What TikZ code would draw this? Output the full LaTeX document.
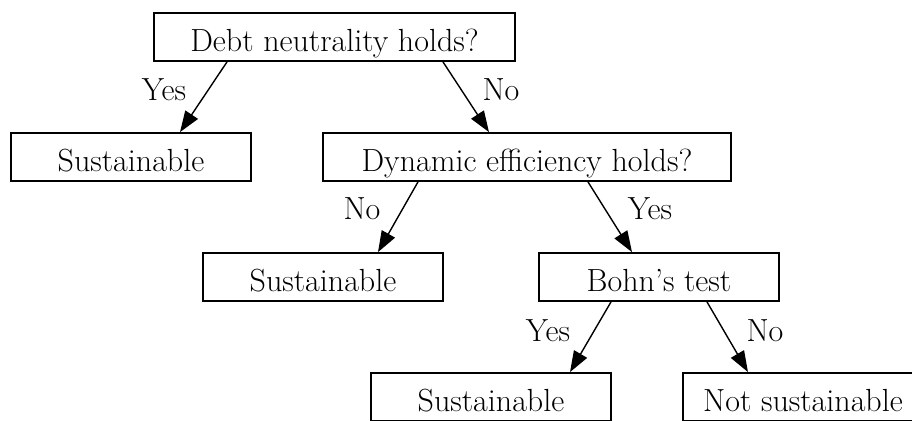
\documentclass[tikz,border=0pt]{standalone}
\usetikzlibrary{arrows.meta}
\begin{document}
\begin{tikzpicture}[x=0.5pt,y=-0.5pt,
  box/.style={draw, line width=0.9pt, inner sep=0pt, minimum height=24pt,
    minimum width=120pt, text height=14pt, text depth=0pt,
    font=\fontsize{16}{19}\selectfont},
  lab/.style={inner sep=0pt, font=\fontsize{16}{19}\selectfont},
  arr/.style={line width=0.7pt, -{Triangle[length=10.5pt,width=7.5pt]}}]
\path[use as bounding box] (0,0) rectangle (912,420);
\clip (0,0) rectangle (912,420);
\node[box, minimum width=180.5pt] (b1) at (334.5,37) {Debt neutrality holds?};
\node[box] (b2) at (131,157) {Sustainable};
\node[box, minimum width=204pt] (b3) at (527,157) {Dynamic efficiency holds?};
\node[box] (b4) at (323,277) {Sustainable};
\node[box] (b5) at (659,277) {Bohn’s test};
\node[box] (b6) at (491,397) {Sustainable};
\node[box] (b7) at (803,397) {Not sustainable};
\draw[arr] ([xshift=-53.75pt]b1.south) -- ([xshift=24.5pt]b2.north);
\draw[arr] ([xshift=54.25pt]b1.south) -- ([xshift=-19pt]b3.north);
\draw[arr] ([xshift=-54.5pt]b3.south) -- ([xshift=27.5pt]b4.north);
\draw[arr] ([xshift=30.5pt]b3.south) -- ([xshift=-13.5pt]b5.north);
\draw[arr] ([xshift=-24pt]b5.south) -- ([xshift=39.5pt]b6.north);
\draw[arr] ([xshift=24pt]b5.south) -- ([xshift=-27.5pt]b7.north);
\node[lab] (l1) at (164,90) {Yes};
\node[lab] (l2) at (501,90) {No};
\node[lab] (l3) at (362,209) {No};
\node[lab] (l4) at (650,209) {Yes};
\node[lab] (l5) at (548,331) {Yes};
\node[lab] (l6) at (765,331) {No};
\end{tikzpicture}
\end{document}
